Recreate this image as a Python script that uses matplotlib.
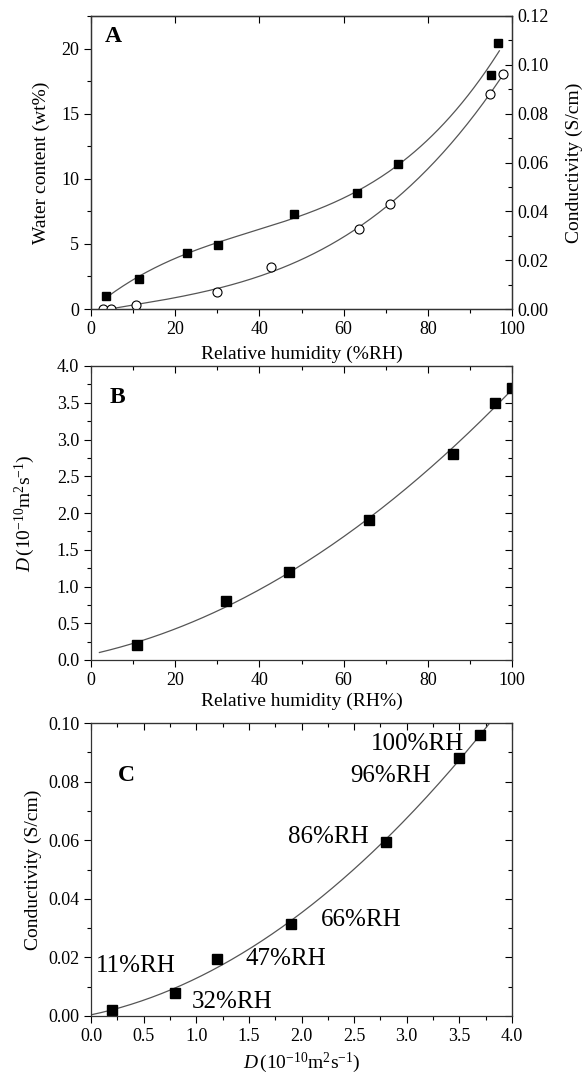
import numpy as np
import matplotlib.pyplot as plt
from matplotlib.ticker import MultipleLocator

plt.rcParams['font.family'] = ['Liberation Serif', 'DejaVu Serif']
plt.rcParams['mathtext.fontset'] = 'custom'
plt.rcParams['mathtext.rm'] = 'Liberation Serif'
plt.rcParams['mathtext.it'] = 'Liberation Serif:italic'

# panel A: water uptake (squares, left axis) and conductivity (circles, right axis)
rh_water = [3.5, 11.4, 22.7, 30.2, 48.1, 63.3, 73.0, 94.9, 96.7]
water_content = [1.0, 2.28, 4.33, 4.95, 7.28, 8.9, 11.15, 18.0, 20.4]
rh_cond = [2.9, 4.8, 10.8, 30.0, 42.8, 63.7, 71.0, 94.7, 97.9]
conductivity_a = [0.0, 0.0, 0.0015, 0.0071, 0.0171, 0.0329, 0.043, 0.0879, 0.0962]

# panel B: diffusion coefficient vs RH
rh_b = [11, 32, 47, 66, 86, 96, 100]
diff_b = [0.2, 0.8, 1.2, 1.9, 2.8, 3.5, 3.7]

# panel C: conductivity vs diffusion coefficient
diff_c = [0.2, 0.8, 1.2, 1.9, 2.8, 3.5, 3.7]
conductivity_c = [0.002, 0.008, 0.0195, 0.0315, 0.0595, 0.088, 0.096]
labels_c = ['11%RH', '32%RH', '47%RH', '66%RH', '86%RH', '96%RH', '100%RH']
label_pos_c = [(0.05, 0.017), (0.96, 0.0049), (1.47, 0.0193), (2.18, 0.0329),
               (1.87, 0.061), (2.46, 0.082), (2.66, 0.0928)]

LINE = '#555555'
TICK_FS = 13
LABEL_FS = 14


def fit_line(x, y, deg, x0, x1):
    coef = np.polyfit(x, y, deg)
    xs = np.linspace(x0, x1, 200)
    return xs, np.polyval(coef, xs)


def style_box(ax, xminor, yminor):
    ax.xaxis.set_minor_locator(MultipleLocator(xminor))
    ax.yaxis.set_minor_locator(MultipleLocator(yminor))
    ax.tick_params(which='both', direction='out', labelsize=TICK_FS, width=0.8)
    ax.tick_params(which='major', length=5)
    ax.tick_params(which='minor', length=3)
    for s in ax.spines.values():
        s.set_linewidth(0.9)
        s.set_color('#333333')


def mirror_ticks(ax, xminor, yminor):
    # inward ticks on top/right without labels
    top = ax.secondary_xaxis('top')
    top.set_xticks(ax.get_xticks())
    top.xaxis.set_minor_locator(MultipleLocator(xminor))
    top.tick_params(which='both', direction='in', labeltop=False, width=0.8)
    top.tick_params(which='major', length=5)
    top.tick_params(which='minor', length=3)
    right = ax.secondary_yaxis('right')
    right.set_yticks(ax.get_yticks())
    right.yaxis.set_minor_locator(MultipleLocator(yminor))
    right.tick_params(which='both', direction='in', labelright=False, width=0.8)
    right.tick_params(which='major', length=5)
    right.tick_params(which='minor', length=3)


fig = plt.figure(figsize=(5.86, 10.77), dpi=100)
L, W = 91 / 586, 421 / 586
axA = fig.add_axes([L, 1 - 309 / 1077, W, 293 / 1077])
axB = fig.add_axes([L, 1 - 660 / 1077, W, 294 / 1077])
axC = fig.add_axes([L, 1 - 1016 / 1077, W, 293 / 1077])

# ---- A ----
xs, ys = fit_line(rh_water, water_content, 3, 3.9, 97)
axA.plot(xs, ys, color=LINE, lw=0.9)
axA.plot(rh_water, water_content, 's', color='black', ms=5.5)
axA.set_xlim(0, 100)
axA.set_ylim(0, 22.5)
axA.set_xticks(np.arange(0, 101, 20))
axA.set_yticks([0, 5, 10, 15, 20])
style_box(axA, 10, 2.5)
axA.set_xlabel('Relative humidity (%RH)', fontsize=LABEL_FS, labelpad=6)
axA.set_ylabel('Water content (wt%)', fontsize=LABEL_FS, labelpad=8)
axA.text(0.033, 0.93, 'A', transform=axA.transAxes, fontsize=17,
         fontweight='bold', va='center')
topA = axA.secondary_xaxis('top')
topA.set_xticks(np.arange(0, 101, 20))
topA.tick_params(direction='in', labeltop=False, length=5, width=0.8)

axA2 = axA.twinx()
xs, ys = fit_line(rh_cond, conductivity_a, 3, 2.7, 98)
axA2.plot(xs, ys, color=LINE, lw=0.9)
axA2.plot(rh_cond, conductivity_a, 'o', mfc='white', mec='black', mew=0.8, ms=6.5)
axA2.set_ylim(0, 0.12)
axA2.set_yticks(np.arange(0, 0.121, 0.02))
axA2.yaxis.set_major_formatter(lambda v, p: f'{v:.2f}')
axA2.yaxis.set_minor_locator(MultipleLocator(0.01))
axA2.tick_params(which='both', direction='in', labelsize=TICK_FS, width=0.8, pad=4)
axA2.tick_params(which='major', length=5)
axA2.tick_params(which='minor', length=3)
axA2.set_ylabel('Conductivity (S/cm)', fontsize=LABEL_FS, labelpad=12)
for s in axA2.spines.values():
    s.set_linewidth(0.9)
    s.set_color('#333333')

# ---- B ----
xs, ys = fit_line(rh_b, diff_b, 2, 2, 100)
axB.plot(xs, ys, color=LINE, lw=0.9)
axB.plot(rh_b, diff_b, 's', color='black', ms=7)
axB.set_xlim(0, 100)
axB.set_ylim(0, 4.0)
axB.set_xticks(np.arange(0, 101, 20))
axB.set_yticks(np.arange(0, 4.01, 0.5))
axB.yaxis.set_major_formatter(lambda v, p: f'{v:.1f}')
style_box(axB, 10, 0.25)
mirror_ticks(axB, 10, 0.25)
axB.set_xlabel('Relative humidity (RH%)', fontsize=LABEL_FS, labelpad=3)
axB.set_ylabel(r'$D\,(10^{-10}$m$^{2}$s$^{-1})$', fontsize=LABEL_FS, labelpad=14)
axB.text(0.045, 0.893, 'B', transform=axB.transAxes, fontsize=17,
         fontweight='bold', va='center')

# ---- C ----
xs, ys = fit_line(diff_c, conductivity_c, 2, 0, 3.8)
axC.plot(xs, ys, color=LINE, lw=0.9)
axC.plot(diff_c, conductivity_c, 's', color='black', ms=7)
for lab, (tx, ty) in zip(labels_c, label_pos_c):
    axC.text(tx, ty, lab, fontsize=18, va='center', ha='left')
axC.set_xlim(0, 4.0)
axC.set_ylim(0, 0.10)
axC.set_xticks(np.arange(0, 4.01, 0.5))
axC.set_yticks(np.arange(0, 0.101, 0.02))
axC.xaxis.set_major_formatter(lambda v, p: f'{v:.1f}')
axC.yaxis.set_major_formatter(lambda v, p: f'{v:.2f}')
style_box(axC, 0.25, 0.01)
mirror_ticks(axC, 0.25, 0.01)
axC.set_xlabel(r'$D\,(10^{-10}$m$^{2}$s$^{-1})$', fontsize=LABEL_FS, labelpad=4)
axC.set_ylabel('Conductivity (S/cm)', fontsize=LABEL_FS, labelpad=4)
axC.text(0.064, 0.822, 'C', transform=axC.transAxes, fontsize=17,
         fontweight='bold', va='center')

fig.savefig('out.png', dpi=100)
